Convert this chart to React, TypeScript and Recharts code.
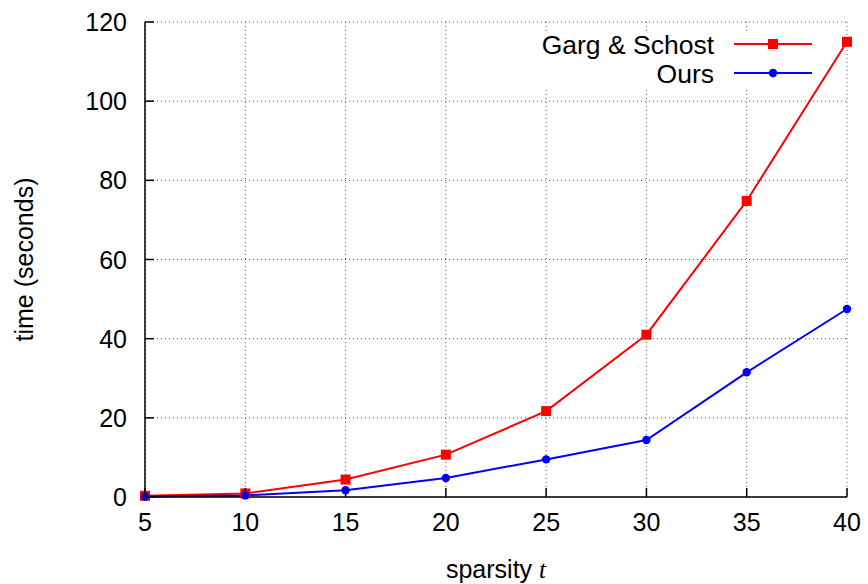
import { LineChart, Line, XAxis, YAxis, CartesianGrid, Legend } from 'recharts';

const sparsity = [5, 10, 15, 20, 25, 30, 35, 40];
const gargSchost = [0.3, 0.9, 4.4, 10.7, 21.7, 41.0, 74.8, 115.0];
const ours = [0.1, 0.4, 1.7, 4.8, 9.5, 14.4, 31.5, 47.5];
const seriesNames = ['Garg & Schost', 'Ours'];
const xTicks = [5, 10, 15, 20, 25, 30, 35, 40];
const yTicks = [0, 20, 40, 60, 80, 100, 120];

const data = sparsity.map((t, i) => ({ t, garg: gargSchost[i], ours: ours[i] }));

const FONT = '"Liberation Sans", Arial, Helvetica, sans-serif';
const RED = '#ff0000';
const BLUE = '#0000ff';

const BottomTick = ({ x, y, payload }: any) => (
  <g>
    <line x1={x} y1={y} x2={x} y2={y - 9} stroke="#000" strokeWidth={1.5} />
    <text x={x} y={y + 34} textAnchor="middle" fontFamily={FONT} fontSize={25} fill="#000">
      {payload.value}
    </text>
  </g>
);

const LeftTick = ({ x, y, payload }: any) => (
  <g>
    <line x1={x} y1={y} x2={x + 9} y2={y} stroke="#000" strokeWidth={1.5} />
    <text x={x - 18} y={y + 9} textAnchor="end" fontFamily={FONT} fontSize={25} fill="#000">
      {payload.value}
    </text>
  </g>
);

const TopTick = ({ x, y }: any) => (
  <line x1={x} y1={y} x2={x} y2={y + 9} stroke="#000" strokeWidth={1.5} />
);

const RightTick = ({ x, y }: any) => (
  <line x1={x} y1={y} x2={x - 9} y2={y} stroke="#000" strokeWidth={1.5} />
);

const SquareDot = (props: any) => {
  const { cx, cy, index } = props;
  return <rect key={`sq-${index}`} x={cx - 5} y={cy - 5} width={10} height={10} fill={RED} />;
};

const RoundDot = (props: any) => {
  const { cx, cy, index } = props;
  return <circle key={`ci-${index}`} cx={cx} cy={cy} r={4.2} fill={BLUE} />;
};

const XTitle = ({ viewBox }: any) => (
  <text
    x={viewBox.x + viewBox.width / 2}
    y={viewBox.y + 81}
    textAnchor="middle"
    fontFamily={FONT}
    fontSize={25}
    fill="#000"
  >
    sparsity{' '}
    <tspan fontFamily='"Liberation Serif", "Times New Roman", serif' fontStyle="italic">
      t
    </tspan>
  </text>
);

const YTitle = ({ viewBox }: any) => {
  const cy = viewBox.y + viewBox.height / 2;
  return (
    <text
      x={33}
      y={cy}
      transform={`rotate(-90, 33, ${cy})`}
      textAnchor="middle"
      fontFamily={FONT}
      fontSize={25}
      fill="#000"
    >
      time (seconds)
    </text>
  );
};

// key box: text right-aligned, then a line sample with its marker
const KeyBox = ({ payload }: any) => (
  <svg width={315} height={56} style={{ display: 'block', overflow: 'visible' }}>
    {(payload || []).map((entry: any, i: number) => {
      const y = 12 + i * 29;
      return (
        <g key={entry.value}>
          <text x={214} y={y + 9.5} textAnchor="end" fontFamily={FONT} fontSize={26.5} fill="#000">
            {entry.value}
          </text>
          <line x1={234} y1={y} x2={312} y2={y} stroke={entry.color} strokeWidth={2} />
          {i === 0 ? (
            <rect x={268} y={y - 5} width={10} height={10} fill={entry.color} />
          ) : (
            <circle cx={273} cy={y} r={4.2} fill={entry.color} />
          )}
        </g>
      );
    })}
  </svg>
);

export default function App() {
  return (
    <div style={{ position: 'absolute', left: 0, top: 0, width: 868, height: 584, background: '#fff' }}>
      <LineChart width={868} height={584} data={data} margin={{ top: 22, right: 21, bottom: 0, left: 0 }}>
        <CartesianGrid stroke="#555" strokeDasharray="1 3" strokeWidth={1} />
        <XAxis
          dataKey="t"
          type="number"
          domain={[5, 40]}
          ticks={xTicks}
          height={87}
          tickSize={0}
          tickMargin={0}
          tick={<BottomTick />}
          axisLine={{ stroke: '#000', strokeWidth: 1.5 }}
          label={<XTitle />}
        />
        <XAxis
          xAxisId="top"
          orientation="top"
          dataKey="t"
          type="number"
          domain={[5, 40]}
          ticks={xTicks}
          height={0}
          tickSize={0}
          tickMargin={0}
          tick={<TopTick />}
          axisLine={{ stroke: '#000', strokeWidth: 1.5 }}
        />
        <YAxis
          type="number"
          domain={[0, 120]}
          ticks={yTicks}
          width={145}
          tickSize={0}
          tickMargin={0}
          tick={<LeftTick />}
          axisLine={{ stroke: '#000', strokeWidth: 1.5 }}
          label={<YTitle />}
        />
        <YAxis
          yAxisId="right"
          orientation="right"
          type="number"
          domain={[0, 120]}
          ticks={yTicks}
          width={0}
          tickSize={0}
          tickMargin={0}
          tick={<RightTick />}
          axisLine={{ stroke: '#000', strokeWidth: 1.5 }}
        />
        <Legend
          layout="vertical"
          align="center"
          verticalAlign="middle"
          content={<KeyBox />}
          wrapperStyle={{ position: 'absolute', left: 500, top: 32, width: 315, height: 56, background: '#fff' }}
        />
        <Line
          type="linear"
          dataKey="garg"
          name={seriesNames[0]}
          stroke={RED}
          strokeWidth={2}
          dot={SquareDot}
          activeDot={false}
          isAnimationActive={false}
        />
        <Line
          type="linear"
          dataKey="ours"
          name={seriesNames[1]}
          stroke={BLUE}
          strokeWidth={2}
          dot={RoundDot}
          activeDot={false}
          isAnimationActive={false}
        />
      </LineChart>
    </div>
  );
}
